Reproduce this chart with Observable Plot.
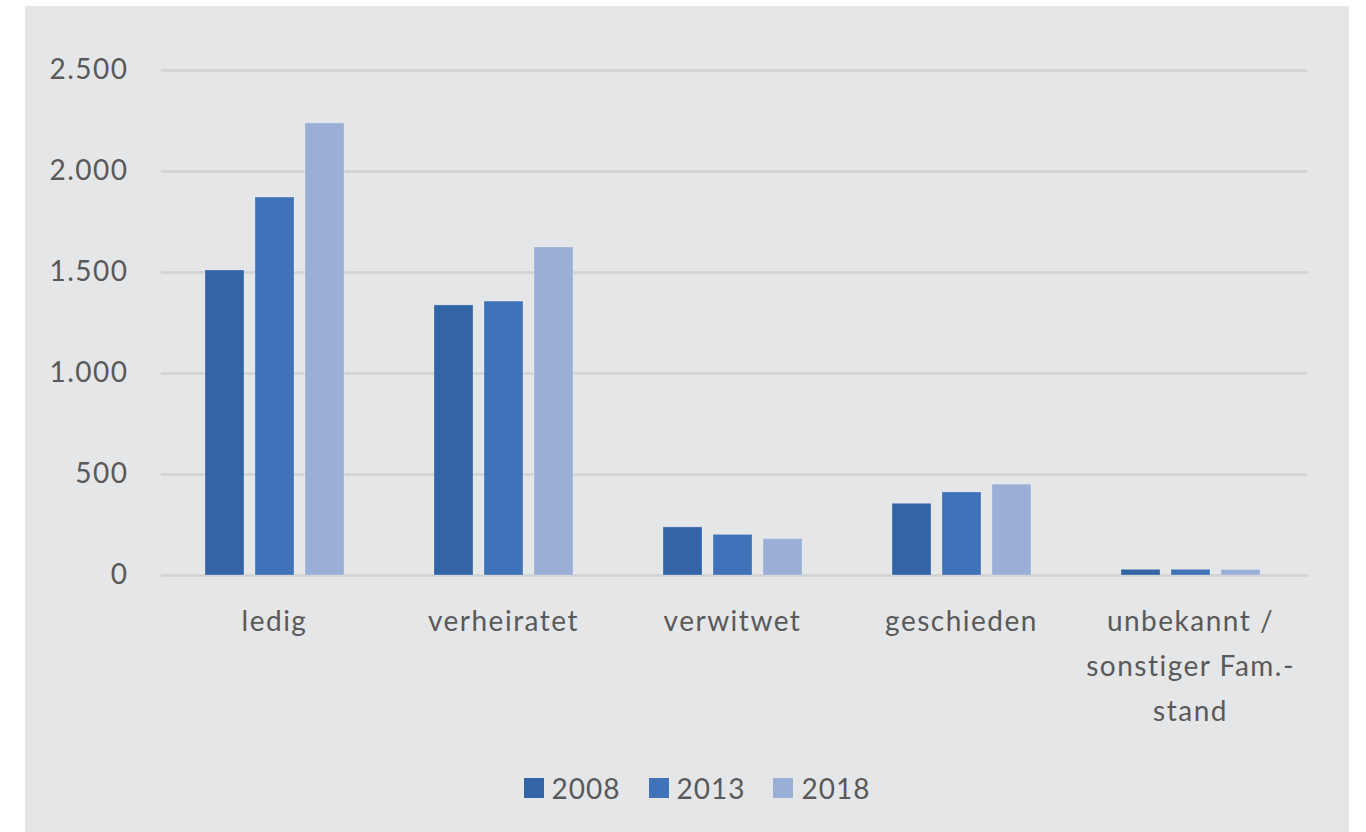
<!DOCTYPE html>
<html>
<head>
<meta charset="utf-8">
<script src="https://cdn.jsdelivr.net/npm/d3@7"></script>
<script src="https://cdn.jsdelivr.net/npm/@observablehq/plot@0.6"></script>
<style>
  html, body { margin: 0; padding: 0; background: #ffffff; width: 1366px; height: 832px; overflow: hidden; }
  #panel { position: absolute; left: 25px; top: 6px; width: 1324px; height: 826px; background: #e5e6e8; font-family: Lato, "Open Sans", sans-serif; color: #595959; }
  #chart { position: absolute; left: 0; top: 0; }
  #legend { position: absolute; left: 10px; top: 765px; width: 1324px; display: flex; justify-content: center; align-items: center; font-size: 28px; letter-spacing: 1px; color: #595959; }
  .item { display: flex; align-items: center; margin: 0 14px; }
  .sw { width: 20px; height: 20px; margin-right: 8px; }
</style>
</head>
<body>
<div id="panel">
  <div id="chart"></div>
  <div id="legend"></div>
</div>
<script>
const categories = ["ledig", "verheiratet", "verwitwet", "geschieden", "unbekannt / sonstiger Fam.-stand"];
const categoryLabels = ["ledig", "verheiratet", "verwitwet", "geschieden", "unbekannt /\nsonstiger Fam.-\nstand"];
const years = ["2008", "2013", "2018"];
const values2008 = [1510, 1337, 238, 355, 28];
const values2013 = [1871, 1356, 201, 411, 28];
const values2018 = [2238, 1624, 180, 450, 27];
const colors = ["#3364a6", "#3f72b9", "#9aafd6"];
const yTicks = [0, 500, 1000, 1500, 2000, 2500];
const yTickLabels = ["0", "500", "1.000", "1.500", "2.000", "2.500"];

const series = [values2008, values2013, values2018];
const rows = [];
categories.forEach((c, i) => years.forEach((y, j) => rows.push({category: c, year: y, value: series[j][i]})));

const W = 1324, mL = 133, mR = 44, fxPad = 0.39;
const step = (W - mL - mR) / categories.length;
const half = step * fxPad / 2;

const chart = Plot.plot({
  width: W,
  height: 750,
  marginTop: 64,
  marginBottom: 181,
  marginLeft: mL,
  marginRight: mR,
  style: {background: "transparent", fontFamily: "Lato, 'Open Sans', sans-serif", fontSize: "28px", color: "#595959", letterSpacing: "1.5px"},
  fx: {domain: categories, paddingInner: fxPad, paddingOuter: fxPad / 2, label: null},
  x: {domain: years, paddingInner: 0.23, paddingOuter: 0, axis: null},
  y: {domain: [0, 2500], label: null},
  color: {domain: years, range: colors},
  marks: [
    Plot.ruleY(yTicks, {y: d => d, stroke: "#d0d1d3", strokeWidth: 2.5, insetLeft: -(half - 1.5), insetRight: -(half + 2.5)}),
    Plot.barY(rows, {fx: "category", x: "year", y: "value", fill: "year", stroke: "#ffffff", strokeOpacity: 0.25, strokeWidth: 1}),
    Plot.axisY({ticks: yTicks, tickFormat: d => yTickLabels[yTicks.indexOf(d)], tickSize: 0, tickPadding: 76, label: null}),
    Plot.axisFx({anchor: "bottom", tickSize: 0, tickPadding: 24, lineHeight: 1.6, tickFormat: d => categoryLabels[categories.indexOf(d)], label: null})
  ]
});
document.getElementById("chart").appendChild(chart);

const legend = document.getElementById("legend");
years.forEach((y, j) => {
  const item = document.createElement("div");
  item.className = "item";
  const sw = document.createElement("div");
  sw.className = "sw";
  sw.style.background = colors[j];
  const t = document.createElement("span");
  t.textContent = y;
  item.appendChild(sw);
  item.appendChild(t);
  legend.appendChild(item);
});
</script>
</body>
</html>
